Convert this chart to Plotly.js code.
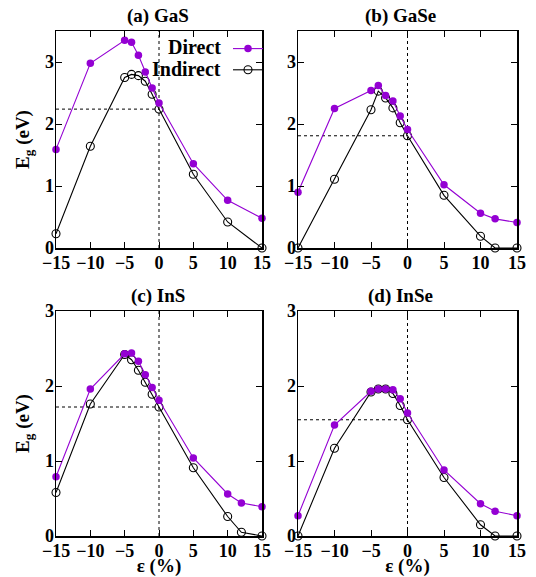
<!DOCTYPE html>
<html>
<head>
<meta charset="utf-8">
<script src="https://cdn.plot.ly/plotly-3.0.1.min.js"></script>
<style>html,body{margin:0;padding:0;background:#fff;}#chart{width:536px;height:577px;}</style>
</head>
<body>
<div id="chart"></div>
<script>
// ---- data ----
const panelTitles = ["(a) GaS", "(b) GaSe", "(c) InS", "(d) InSe"];
const xTickVals = [-15, -10, -5, 0, 5, 10, 15];
const xTickText = ["\u221215", "\u221210", "\u22125", "0", "5", "10", "15"];

const strainGaS = [-15, -10, -5, -4, -3, -2, -1, 0, 5, 10, 15];
const directGaS = [1.59, 2.98, 3.35, 3.32, 3.11, 2.84, 2.58, 2.34, 1.36, 0.77, 0.48];
const indirectGaS = [0.23, 1.64, 2.75, 2.80, 2.78, 2.69, 2.48, 2.24, 1.19, 0.42, 0.0];

const strainGaSe = [-15, -10, -5, -4, -3, -2, -1, 0, 5, 10, 12, 15];
const directGaSe = [0.90, 2.25, 2.54, 2.62, 2.46, 2.37, 2.13, 1.91, 1.02, 0.56, 0.47, 0.41];
const indirectGaSe = [0.0, 1.11, 2.23, 2.53, 2.42, 2.26, 2.02, 1.81, 0.85, 0.19, 0.0, 0.0];

const strainInS = [-15, -10, -5, -4, -3, -2, -1, 0, 5, 10, 12, 15];
const directInS = [0.79, 1.96, 2.43, 2.44, 2.33, 2.15, 1.98, 1.81, 1.04, 0.56, 0.44, 0.39];
const indirectInS = [0.58, 1.76, 2.42, 2.35, 2.21, 2.05, 1.89, 1.72, 0.91, 0.26, 0.05, 0.0];

const strainInSe = [-15, -10, -5, -4, -3, -2, -1, 0, 5, 10, 12, 15];
const directInSe = [0.27, 1.48, 1.93, 1.96, 1.96, 1.95, 1.83, 1.64, 0.88, 0.43, 0.33, 0.27];
const indirectInSe = [0.0, 1.17, 1.92, 1.96, 1.96, 1.90, 1.74, 1.55, 0.78, 0.15, 0.0, 0.0];

const yMaxTop = 3.5, yMaxBottom = 3;
// ---- end data ----

const W = 536, H = 577;
const FONT = "Liberation Serif";
const PURPLE = "#9400d3";

const panels = [
  {x: strainGaS, d: directGaS, i: indirectGaS, ymax: yMaxTop, px: [56, 262], py: [31, 248]},
  {x: strainGaSe, d: directGaSe, i: indirectGaSe, ymax: yMaxTop, px: [298, 517], py: [31, 248]},
  {x: strainInS, d: directInS, i: indirectInS, ymax: yMaxBottom, px: [56, 262], py: [311, 536]},
  {x: strainInSe, d: directInSe, i: indirectInSe, ymax: yMaxBottom, px: [298, 517], py: [311, 536]}
];

const traces = [];
const layout = {
  width: W, height: H,
  margin: {l: 0, r: 0, t: 0, b: 0},
  paper_bgcolor: "#fff", plot_bgcolor: "#fff",
  font: {family: FONT, size: 17, color: "#000"},
  showlegend: true,
  legend: {
    x: 228 / W, xanchor: "left", y: 1 - 33 / H, yanchor: "top",
    bgcolor: "rgba(0,0,0,0)", borderwidth: 0,
    font: {family: FONT, size: 14, color: "#000"},
    itemwidth: 30, tracegroupgap: 0
  },
  annotations: [], shapes: []
};

panels.forEach((p, k) => {
  const n = k + 1;
  const xa = "x" + (n === 1 ? "" : n), ya = "y" + (n === 1 ? "" : n);
  const xkey = "xaxis" + (n === 1 ? "" : n), ykey = "yaxis" + (n === 1 ? "" : n);
  const zeroIdx = p.x.indexOf(0);

  // dotted guides: x = 0 and the unstrained indirect gap
  traces.push({x: [0, 0], y: [0, p.ymax], xaxis: xa, yaxis: ya, mode: "lines",
    line: {color: "#000", width: 1, dash: "dot"}, showlegend: false, hoverinfo: "skip"});
  traces.push({x: [p.x[0], 0], y: [p.i[zeroIdx], p.i[zeroIdx]], xaxis: xa, yaxis: ya, mode: "lines",
    line: {color: "#000", width: 1, dash: "dot"}, showlegend: false, hoverinfo: "skip"});

  traces.push({x: p.x, y: p.i, xaxis: xa, yaxis: ya, mode: "lines+markers", name: " ",
    line: {color: "#000", width: 1.1},
    marker: {symbol: "circle-open", size: 8, color: "#000", line: {width: 1.1}},
    cliponaxis: false, showlegend: n === 1, legendrank: 2});
  traces.push({x: p.x, y: p.d, xaxis: xa, yaxis: ya, mode: "lines+markers", name: " ",
    line: {color: PURPLE, width: 1.1},
    marker: {symbol: "circle", size: 7.5, color: PURPLE},
    cliponaxis: false, showlegend: n === 1, legendrank: 1});

  layout[xkey] = {
    domain: [p.px[0] / W, p.px[1] / W], anchor: ya,
    range: [-15, 15], tickvals: xTickVals, ticktext: xTickText,
    ticks: "inside", ticklen: 6, tickwidth: 1, tickcolor: "#000",
    showline: true, linecolor: "#000", linewidth: 1.5, mirror: "ticks",
    showgrid: false, zeroline: false,
    tickfont: {family: FONT, size: 18, color: "#000", weight: 700},
    ticklabelstandoff: -2
  };
  if (n >= 3) {
    layout[xkey].title = {text: "<b>\u03b5 (%)</b>", font: {family: FONT, size: 19, color: "#000"}, standoff: 4};
  }
  layout[ykey] = {
    domain: [1 - p.py[1] / H, 1 - p.py[0] / H], anchor: xa,
    range: [0, p.ymax], tickvals: [0, 1, 2, 3],
    ticks: "inside", ticklen: 6, tickwidth: 1, tickcolor: "#000",
    showline: true, linecolor: "#000", linewidth: 1.5, mirror: "ticks",
    showgrid: false, zeroline: false,
    tickfont: {family: FONT, size: 18, color: "#000", weight: 700},
    ticklabelstandoff: -3
  };
  if (n === 1 || n === 3) {
    layout[ykey].title = {text: "<b>E<sub>g</sub> (eV)</b>", font: {family: FONT, size: 19, color: "#000"}, standoff: 10};
  }

  layout.annotations.push({
    text: "<b>" + panelTitles[k] + "</b>", xref: "paper", yref: "paper",
    x: ((p.px[0] + p.px[1]) / 2 - (n % 2 === 0 ? 7 : 1)) / W, xanchor: "center",
    y: 1 - (p.py[0] - 15) / H, yanchor: "middle", showarrow: false,
    font: {family: FONT, size: 19, color: "#000"}
  });
});

// legend labels, written to the left of the legend symbols
layout.annotations.push({text: "<b>Direct</b>", xref: "paper", yref: "paper", x: 223 / W, xanchor: "right",
  y: 1 - 47 / H, yanchor: "middle", showarrow: false, font: {family: FONT, size: 20, color: "#000"}});
layout.annotations.push({text: "<b>Indirect</b>", xref: "paper", yref: "paper", x: 223 / W, xanchor: "right",
  y: 1 - 69.5 / H, yanchor: "middle", showarrow: false, font: {family: FONT, size: 20, color: "#000"}});

Plotly.newPlot("chart", traces, layout, {displayModeBar: false, staticPlot: true});
</script>
</body>
</html>
